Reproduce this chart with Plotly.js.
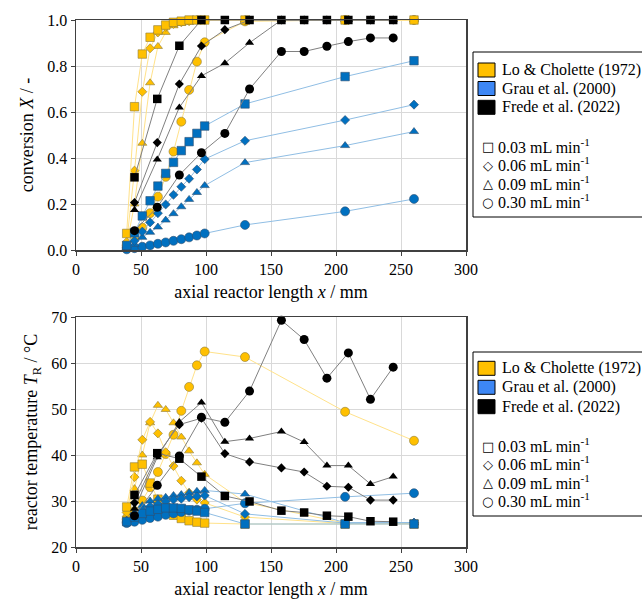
<!DOCTYPE html>
<html>
<head>
<meta charset="utf-8">
<script src="https://cdn.plot.ly/plotly-3.0.1.min.js"></script>
<style>html,body{margin:0;padding:0;background:#fff;}#chart{width:642px;height:599px;}</style>
</head>
<body>
<div id="chart"></div>
<script>
// ---------- data ----------
const xLo    = [39, 45, 51, 57, 63, 69, 75, 81, 87, 93, 99, 130, 207, 260];
const xGrau  = [39, 45, 51, 57, 63, 69, 75, 81, 87, 93, 99, 130, 207, 260];
const xFrede = [45, 62.5, 79.5, 96.5, 114.5, 133.5, 158, 175.5, 193, 209.5, 226.5, 244];

// conversion X
const loConv003 = [0.072, 0.623, 0.852, 0.925, 0.957, 0.978, 0.99, 0.995, 1.0, 1.0, 1.0, 1.0, 1.0, 1.0];
const loConv006 = [0.035, 0.345, 0.688, 0.877, 0.946, 0.97, 0.983, 0.99, 0.995, 1.0, 1.0, 1.0, 1.0, 1.0];
const loConv009 = [0.022, 0.2, 0.464, 0.727, 0.885, 0.946, 0.975, 0.985, 0.99, 0.995, 1.0, 1.0, 1.0, 1.0];
const loConv030 = [0.02, 0.05, 0.097, 0.16, 0.232, 0.318, 0.428, 0.558, 0.696, 0.819, 0.903, 0.994, 1.0, 1.0];

const grauConv003 = [0.02, 0.075, 0.148, 0.214, 0.278, 0.333, 0.381, 0.432, 0.471, 0.507, 0.539, 0.635, 0.754, 0.823];
const grauConv006 = [0.01, 0.04, 0.08, 0.12, 0.16, 0.198, 0.24, 0.275, 0.31, 0.35, 0.395, 0.475, 0.565, 0.632];
const grauConv009 = [0.008, 0.025, 0.055, 0.077, 0.10, 0.13, 0.158, 0.188, 0.22, 0.25, 0.28, 0.38, 0.454, 0.515];
const grauConv030 = [0.003, 0.008, 0.014, 0.02, 0.027, 0.033, 0.04, 0.047, 0.055, 0.063, 0.072, 0.109, 0.168, 0.222];

const fredeConv003 = [0.316, 0.657, 0.888, 1.0, 1.0, 1.0, 1.0, 1.0, 1.0, 1.0, 1.0, 1.0];
const fredeConv006 = [0.206, 0.467, 0.722, 0.887, 0.958, 1.0, 1.0, 1.0, 1.0, 1.0, 1.0, 1.0];
const fredeConv009 = [0.174, 0.394, 0.62, 0.757, 0.812, 0.901, 1.0, 1.0, 1.0, 1.0, 1.0, 1.0];
const fredeConv030 = [0.084, 0.186, 0.326, 0.423, 0.507, 0.70, 0.863, 0.863, 0.886, 0.906, 0.922, 0.922];

// reactor temperature T_R
const loT003 = [28.7, 37.4, 38.0, 33.9, 30.4, 28.6, 26.9, 26.2, 25.7, 25.4, 25.2, 25.0, 25.0, 25.0];
const loT006 = [27.5, 35.2, 43.3, 47.2, 44.7, 40.6, 37.6, 34.4, 31.8, 30.3, 29.6, 26.5, 25.1, 25.1];
const loT009 = [27.0, 32.7, 40.0, 47.0, 50.8, 49.9, 47.0, 43.9, 40.9, 38.3, 35.8, 29.7, 25.2, 25.2];
const loT030 = [26.0, 27.8, 30.1, 33.0, 36.3, 40.2, 44.4, 49.6, 54.8, 59.5, 62.5, 61.3, 49.4, 43.1];

const grauT003 = [25.5, 26.5, 27.3, 27.8, 28.2, 28.5, 28.5, 28.4, 28.1, 27.8, 27.5, 25.0, 25.0, 25.0];
const grauT006 = [25.6, 27.0, 28.0, 28.8, 29.3, 29.9, 30.3, 30.5, 30.8, 31.0, 31.2, 27.2, 25.2, 25.3];
const grauT009 = [25.8, 27.5, 29.0, 30.0, 30.5, 30.8, 31.2, 31.4, 31.8, 32.1, 32.3, 31.5, 25.3, 25.3];
const grauT030 = [25.2, 25.5, 25.9, 26.3, 26.6, 27.0, 27.3, 27.6, 27.9, 28.1, 28.3, 29.5, 30.9, 31.7];

const fredeT003 = [31.3, 40.4, 39.2, 35.3, 31.1, 29.9, 27.9, 27.5, 26.8, 26.6, 25.6, 25.5];
const fredeT006 = [29.6, 40.0, 46.6, 48.0, 40.3, 38.5, 37.2, 36.3, 33.2, 33.0, 30.2, 30.2];
const fredeT009 = [28.3, 39.5, 47.2, 51.4, 42.9, 43.6, 45.1, 42.8, 37.7, 37.7, 33.7, 35.3];
const fredeT030 = [26.8, 33.4, 39.8, 48.2, 47.1, 53.9, 69.3, 65.1, 56.7, 62.2, 52.1, 59.1];

const sourceNames = ['Lo & Cholette (1972)', 'Grau et al. (2000)', 'Frede et al. (2022)'];
const flowLabels = ['0.03 mL min<sup>-1</sup>', '0.06 mL min<sup>-1</sup>', '0.09 mL min<sup>-1</sup>', '0.30 mL min<sup>-1</sup>'];
const flowGlyphs = ['\u25A1', '\u25C7', '\u25B3', '\u25CB'];

// ---------- styles ----------
const FONT = 'Liberation Serif, Times New Roman, serif';
const symbols = ['square', 'diamond', 'triangle-up', 'circle'];
const sizes = [8.5, 7, 8, 9];
const styleLo = {fill: '#FFC000', line: '#FFE28A', edge: '#8C7A3A'};
const styleGrau = {fill: '#0070C0', line: '#90BEE4', edge: '#2F4F6F'};
const styleFrede = {fill: '#000000', line: '#808080', edge: '#000000'};

function mk(x, y, k, st, xa, ya) {
  return {
    x: x, y: y, xaxis: xa, yaxis: ya, type: 'scatter', mode: 'lines+markers',
    showlegend: false, cliponaxis: false, hoverinfo: 'skip',
    line: {color: st.line, width: 1},
    marker: {symbol: symbols[k], size: sizes[k], color: st.fill,
             line: {color: st.edge, width: st === styleFrede ? 0 : 0.6}}
  };
}

const data = [];
const loConv = [loConv003, loConv006, loConv009, loConv030];
const grauConv = [grauConv003, grauConv006, grauConv009, grauConv030];
const fredeConv = [fredeConv003, fredeConv006, fredeConv009, fredeConv030];
const loT = [loT003, loT006, loT009, loT030];
const grauT = [grauT003, grauT006, grauT009, grauT030];
const fredeT = [fredeT003, fredeT006, fredeT009, fredeT030];

for (let k = 3; k >= 0; k--) data.push(mk(xLo, loConv[k], k, styleLo, 'x', 'y'));
for (let k = 3; k >= 0; k--) data.push(mk(xGrau, grauConv[k], k, styleGrau, 'x', 'y'));
for (let k = 3; k >= 0; k--) data.push(mk(xFrede, fredeConv[k], k, styleFrede, 'x', 'y'));
for (let k = 3; k >= 0; k--) data.push(mk(xLo, loT[k], k, styleLo, 'x2', 'y2'));
for (let k = 3; k >= 0; k--) data.push(mk(xGrau, grauT[k], k, styleGrau, 'x2', 'y2'));
for (let k = 3; k >= 0; k--) data.push(mk(xFrede, fredeT[k], k, styleFrede, 'x2', 'y2'));

// ---------- layout helpers ----------
const W = 642, H = 599, ML = 76, MR = 176, MT = 20, MB = 52;
const PW = W - ML - MR, PH = H - MT - MB;
const px2x = p => (p - ML) / PW;
const px2y = p => (H - MB - p) / PH;

const axisCommon = {
  showline: true, mirror: true, linecolor: '#404040', linewidth: 1.5,
  showgrid: true, gridcolor: '#D9D9D9', gridwidth: 1, zeroline: false,
  ticks: 'outside', ticklen: 4, tickcolor: '#404040', tickwidth: 1,
  tickfont: {family: FONT, size: 16, color: '#000'}, automargin: false, fixedrange: true
};
const xTitle = {text: 'axial reactor length <i>x</i> / mm', font: {family: FONT, size: 18, color: '#000'}, standoff: 8};

const shapes = [];
const annotations = [];
const swatchColors = ['#FFC000', '#3D87F5', '#000000'];
function buildLegend(top, bottom, srcRows, flowRows) {
  shapes.push({type: 'rect', xref: 'paper', yref: 'paper', x0: px2x(473), x1: px2x(643),
    y0: px2y(bottom), y1: px2y(top), line: {color: '#000', width: 1}, fillcolor: '#fff', layer: 'above'});
  srcRows.forEach((cy, i) => {
    shapes.push({type: 'rect', xref: 'paper', yref: 'paper', x0: px2x(478), x1: px2x(495),
      y0: px2y(cy + 7), y1: px2y(cy - 7), line: {color: '#000', width: 1}, fillcolor: swatchColors[i], layer: 'above'});
    annotations.push({xref: 'paper', yref: 'paper', x: px2x(500), y: px2y(cy), xanchor: 'left', yanchor: 'middle',
      showarrow: false, text: sourceNames[i], font: {family: FONT, size: 16, color: '#000'}});
  });
  flowRows.forEach((cy, i) => {
    annotations.push({xref: 'paper', yref: 'paper', x: px2x(487.5), y: px2y(cy + 1), xanchor: 'center', yanchor: 'middle',
      showarrow: false, text: flowGlyphs[i], font: {family: 'DejaVu Sans', size: 13, color: '#000'}});
    annotations.push({xref: 'paper', yref: 'paper', x: px2x(496), y: px2y(cy), xanchor: 'left', yanchor: 'middle',
      showarrow: false, text: flowLabels[i], font: {family: FONT, size: 16, color: '#000'}});
  });
}
buildLegend(52, 217, [70, 88.5, 107.3], [145.7, 164, 182.7, 201]);
buildLegend(352, 516, [368.3, 387.3, 406.7], [445, 463.3, 481.7, 500]);

const layout = {
  width: W, height: H, margin: {l: ML, r: MR, t: MT, b: MB, pad: 0},
  paper_bgcolor: '#fff', plot_bgcolor: '#fff', showlegend: false,
  font: {family: FONT, size: 16, color: '#000'},
  xaxis: Object.assign({}, axisCommon, {domain: [0, 1], anchor: 'y', range: [0, 300], dtick: 50, tick0: 0, title: xTitle}),
  yaxis: Object.assign({}, axisCommon, {domain: [px2y(250), 1], anchor: 'x', range: [0, 1], dtick: 0.2, tick0: 0, tickformat: '.1f',
    title: {text: 'conversion <i>X</i> / -', font: {family: FONT, size: 18, color: '#000'}, standoff: 9}}),
  xaxis2: Object.assign({}, axisCommon, {domain: [0, 1], anchor: 'y2', range: [0, 300], dtick: 50, tick0: 0, title: xTitle}),
  yaxis2: Object.assign({}, axisCommon, {domain: [0, px2y(317)], anchor: 'x2', range: [20, 70], dtick: 10, tick0: 20,
    title: {text: 'reactor temperature <i>T</i><sub>R</sub> / °C', font: {family: FONT, size: 18, color: '#000'}, standoff: 9}}),
  shapes: shapes, annotations: annotations
};

Plotly.newPlot('chart', data, layout, {staticPlot: true, displayModeBar: false});
</script>
</body>
</html>
